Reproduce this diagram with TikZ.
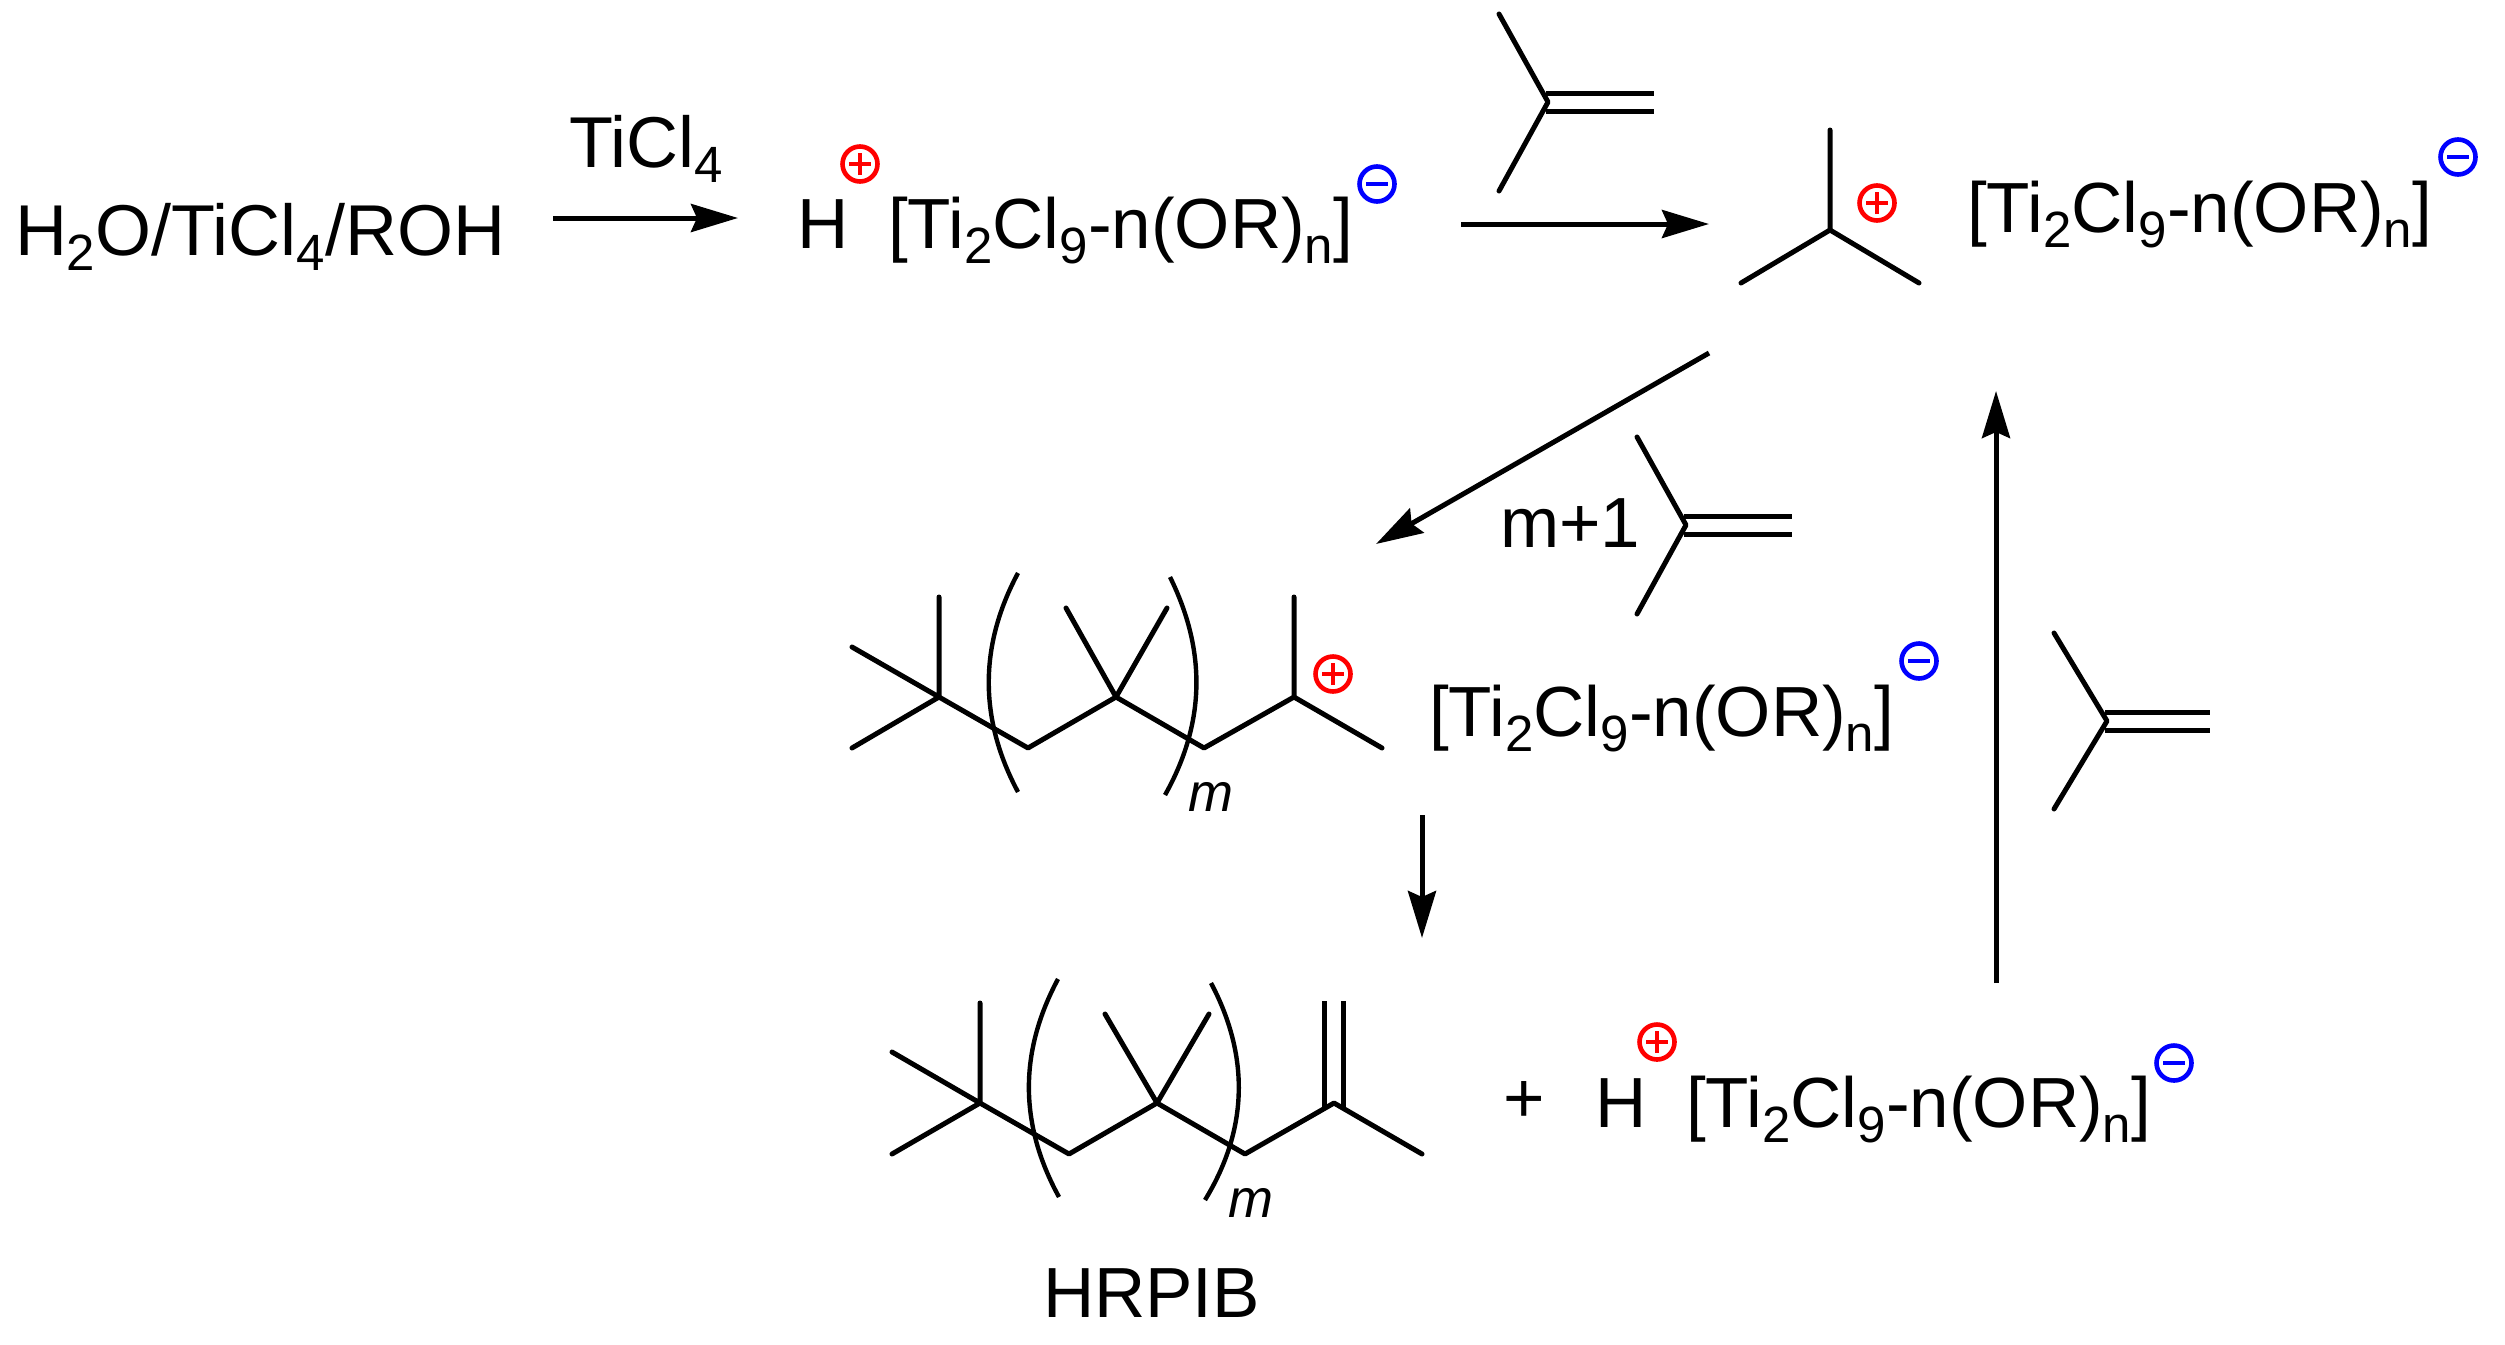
\documentclass[tikz,border=0pt]{standalone}
\usepackage{fontspec}
\setmainfont{Liberation Sans}
\usetikzlibrary{arrows.meta}
\newcommand{\lowsub}[1]{\raisebox{-7.5pt}{\fontsize{25.5pt}{25.5pt}\selectfont #1}}
\newcommand{\anion}{[Ti\lowsub{2}Cl\lowsub{9}-n(OR)\lowsub{n}]}
\tikzset{
  lbl/.style={inner sep=0pt,outer sep=0pt,anchor=base west,font=\fontsize{35.5pt}{35.5pt}\selectfont},
  lblw/.style={inner sep=0pt,outer sep=0pt,anchor=base west,font=\fontsize{36pt}{36pt}\selectfont},
  subm/.style={inner sep=0pt,outer sep=0pt,anchor=base west,font=\fontsize{27pt}{27pt}\selectfont\itshape},
  bond/.style={line width=2.5pt,line cap=round,line join=round},
  brk/.style={line width=2.2pt},
  rxn/.style={line width=2.5pt,-{Stealth[length=23.5pt,width=14pt,inset=3pt]}},
  cplus/.style={circle,draw=red,line width=2.3pt,minimum size=17.5pt,inner sep=0pt,
    path picture={\draw[red,line width=2.2pt]
      (path picture bounding box.center) ++(-5.5pt,0) -- ++(11pt,0)
      (path picture bounding box.center) ++(0,-5.5pt) -- ++(0,11pt);}},
  cminus/.style={circle,draw=blue,line width=2.3pt,minimum size=17.5pt,inner sep=0pt,
    path picture={\draw[blue,line width=2.4pt]
      (path picture bounding box.center) ++(-5.5pt,0) -- ++(11pt,0);}}
}
\begin{document}
\begin{tikzpicture}[x=0.5pt,y=-0.5pt]
\useasboundingbox[fill=white] (0,0) rectangle (2505,1344);
% top row texts
\node[lblw] (start) at (15,255) {H\lowsub{2}O/TiCl\lowsub{4}/ROH};
\node[lblw] (ticl) at (569,167) {TiCl\lowsub{4}};
\node[lbl] (h1) at (797,248) {H};
\node[lbl] (an1) at (888,248) {\anion};
\node[cplus] (p1) at (860,164) {};
\node[cminus] (m1) at (1377,184) {};
\coordinate (a1s) at (553,218);
\coordinate (a1e) at (738,218);
\draw[rxn] (a1s) -- (a1e);
% isobutene 1
\coordinate (ib1c) at (1548,102);
\coordinate (ib1t) at (1499,14);
\coordinate (ib1b) at (1499,191);
\coordinate (ib1a) at (1546,93);
\coordinate (ib1d) at (1546,111);
\coordinate (ib1e) at (1654,93);
\coordinate (ib1f) at (1654,111);
\draw[bond] (ib1t) -- (ib1c) -- (ib1b);
\draw[bond,line cap=butt] (ib1a) -- (ib1e) (ib1d) -- (ib1f);
% arrow 2
\coordinate (a2s) at (1461,224);
\coordinate (a2e) at (1709,224);
\draw[rxn] (a2s) -- (a2e);
% t-butyl cation
\coordinate (tbc) at (1830,230);
\coordinate (tbt) at (1830,130);
\coordinate (tbl) at (1741,283);
\coordinate (tbr) at (1919,283);
\draw[bond] (tbt) -- (tbc) (tbl) -- (tbc) -- (tbr);
\node[cplus] (p2) at (1877,203) {};
\node[lbl] (an2) at (1967,232) {\anion};
\node[cminus] (m2) at (2458,157) {};
% arrow 3
\coordinate (a3s) at (1709,353);
\coordinate (a3e) at (1376,544);
\draw[rxn] (a3s) -- (a3e);
\node[lbl] (mp1) at (1500,547) {m+1};
% isobutene 2
\coordinate (ib2c) at (1686,525);
\coordinate (ib2t) at (1637,437);
\coordinate (ib2b) at (1637,614);
\coordinate (ib2a) at (1684,516);
\coordinate (ib2d) at (1684,534);
\coordinate (ib2e) at (1792,516);
\coordinate (ib2f) at (1792,534);
\draw[bond] (ib2t) -- (ib2c) -- (ib2b);
\draw[bond,line cap=butt] (ib2a) -- (ib2e) (ib2d) -- (ib2f);
% chain 1
\coordinate (c1a) at (852,647);
\coordinate (c1b) at (852,748);
\coordinate (c1c) at (939,697);
\coordinate (c1d) at (939,597);
\coordinate (c1e) at (1028,748);
\coordinate (c1f) at (1116,697);
\coordinate (c1g) at (1066,608);
\coordinate (c1h) at (1167,608);
\coordinate (c1i) at (1204,748);
\coordinate (c1j) at (1294,697);
\coordinate (c1k) at (1294,597);
\coordinate (c1l) at (1382,748);
\draw[bond] (c1a) -- (c1c) -- (c1d) (c1b) -- (c1c) -- (c1e) -- (c1f) -- (c1i) -- (c1j) -- (c1l)
  (c1g) -- (c1f) -- (c1h) (c1j) -- (c1k);
\coordinate (b1lt) at (1018,573);
\coordinate (b1lb) at (1018,792);
\coordinate (b1rt) at (1170,577);
\coordinate (b1rb) at (1165,795);
\draw[brk] (b1lt) .. controls (979,646) and (979,719) .. (b1lb);
\draw[brk] (b1rt) .. controls (1206,650) and (1206,722) .. (b1rb);
\node[subm] (m1t) at (1188,811) {m};
\node[cplus] (p3) at (1333,674) {};
\node[lbl] (an3) at (1429,736) {\anion};
\node[cminus] (m3) at (1919,661) {};
% down arrow
\coordinate (a4s) at (1422,815);
\coordinate (a4e) at (1422,938);
\draw[rxn] (a4s) -- (a4e);
% up arrow
\coordinate (a5s) at (1996,983);
\coordinate (a5e) at (1996,391);
\draw[rxn] (a5s) -- (a5e);
% isobutene 3
\coordinate (ib3c) at (2107,721);
\coordinate (ib3t) at (2054,633);
\coordinate (ib3b) at (2054,809);
\coordinate (ib3a) at (2105,712);
\coordinate (ib3d) at (2105,730);
\coordinate (ib3e) at (2210,712);
\coordinate (ib3f) at (2210,730);
\draw[bond] (ib3t) -- (ib3c) -- (ib3b);
\draw[bond,line cap=butt] (ib3a) -- (ib3e) (ib3d) -- (ib3f);
% chain 2
\coordinate (c2a) at (892,1052);
\coordinate (c2b) at (892,1154);
\coordinate (c2c) at (980,1103);
\coordinate (c2d) at (980,1003);
\coordinate (c2e) at (1069,1154);
\coordinate (c2f) at (1157,1103);
\coordinate (c2g) at (1105,1014);
\coordinate (c2h) at (1209,1014);
\coordinate (c2i) at (1245,1154);
\coordinate (c2j) at (1334,1103);
\coordinate (c2k) at (1324,1001);
\coordinate (c2n) at (1343,1001);
\coordinate (c2o) at (1324,1110);
\coordinate (c2q) at (1343,1110);
\coordinate (c2l) at (1422,1154);
\draw[bond] (c2a) -- (c2c) -- (c2d) (c2b) -- (c2c) -- (c2e) -- (c2f) -- (c2i) -- (c2j) -- (c2l)
  (c2g) -- (c2f) -- (c2h);
\draw[bond,line cap=butt] (c2k) -- (c2o) (c2n) -- (c2q);
\coordinate (b2lt) at (1058,979);
\coordinate (b2lb) at (1059,1197);
\coordinate (b2rt) at (1211,983);
\coordinate (b2rb) at (1205,1200);
\draw[brk] (b2lt) .. controls (1019,1052) and (1019,1124) .. (b2lb);
\draw[brk] (b2rt) .. controls (1249,1055) and (1249,1128) .. (b2rb);
\node[subm] (m2t) at (1228,1217) {m};
\node[lbl] (hrpib) at (1043,1317) {HRPIB};
\node[lbl] (plus) at (1503,1122) {+};
\node[lbl] (h2) at (1595,1127) {H};
\node[lbl] (an4) at (1686,1127) {\anion};
\node[cplus] (p4) at (1657,1042) {};
\node[cminus] (m4) at (2174,1063) {};
\end{tikzpicture}
\end{document}
